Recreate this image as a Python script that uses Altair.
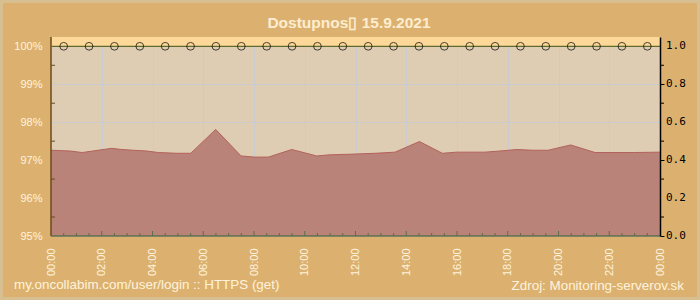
import altair as alt
import pandas as pd

# ---- data ----
hours = [0.0, 0.75, 1.23, 1.86, 2.39, 2.79, 3.25, 3.77, 4.23, 4.98, 5.51, 6.49, 7.49,
         8.0, 8.57, 9.49, 10.01, 10.47, 11.0, 11.98, 12.77, 13.56, 14.52, 15.42, 15.99,
         17.1, 17.70, 18.35, 19.0, 19.59, 20.48, 21.44, 23.0, 24.0]
availability_pct = [97.26, 97.24, 97.20, 97.26, 97.31, 97.28, 97.26, 97.24, 97.20, 97.18,
                    97.18, 97.81, 97.11, 97.08, 97.08, 97.28, 97.19, 97.11, 97.14, 97.16,
                    97.18, 97.21, 97.49, 97.18, 97.21, 97.21, 97.24, 97.28, 97.26, 97.26,
                    97.40, 97.20, 97.20, 97.21]

point_hours = [0.5, 1.5, 2.5, 3.5, 4.5, 5.5, 6.5, 7.5, 8.5, 9.5, 10.5, 11.5,
               12.5, 13.5, 14.5, 15.5, 16.5, 17.5, 18.5, 19.5, 20.5, 21.5, 22.5, 23.5]
point_values = [1.0, 1.0, 1.0, 1.0, 1.0, 1.0, 1.0, 1.0, 1.0, 1.0, 1.0, 1.0,
                1.0, 1.0, 1.0, 1.0, 1.0, 1.0, 1.0, 1.0, 1.0, 1.0, 1.0, 1.0]

x_tick_labels = [0, 2, 4, 6, 8, 10, 12, 14, 16, 18, 20, 22, 24]
left_tick_labels = [95, 96, 97, 98, 99, 100]
left_minor = [95.5, 96.5, 97.5, 98.5, 99.5]
right_tick_labels = [0.0, 0.2, 0.4, 0.6, 0.8, 1.0]
right_minor = [0.1, 0.3, 0.5, 0.7, 0.9]
bottom_minor = [h / 2 for h in range(1, 48) if h % 4 != 0]
bottom_major = [2, 4, 6, 8, 10, 12, 14, 16, 18, 20, 22]

title_text = "Dostupnos\u25af 15.9.2021"
left_note = "my.oncollabim.com/user/login :: HTTPS (get)"
right_note = "Zdroj: Monitoring-serverov.sk"

W, H = 609, 199
CREAM = "#fff3dc"
LABEL_FONT = "Liberation Sans"
GRID = "#cbcacf"

df_area = pd.DataFrame({"h": hours, "v": availability_pct})
df_pts = pd.DataFrame({"h": point_hours, "a": point_values})
one = pd.DataFrame({"_": [0]})

xscale = alt.Scale(domain=[0, 24], nice=False)
lscale = alt.Scale(domain=[95, 100.245], nice=False, zero=False)
rscale = alt.Scale(domain=[0, 1.049], nice=False, zero=False)

xaxis = alt.Axis(
    values=x_tick_labels, title=None, grid=True, gridColor=GRID,
    domain=False, ticks=False, labelAngle=270, labelPadding=12,
    labelColor=CREAM, labelFont=LABEL_FONT, labelFontSize=11,
    labelOverlap=False, labelFlush=False,
    labelExpr="(datum.value % 24 < 10 ? '0' : '') + (datum.value % 24) + ':00'")

raxis = alt.Axis(
    orient="right", values=right_tick_labels, title=None, grid=False,
    domainColor="black", domainWidth=1.5, tickColor="black", tickSize=4,
    labels=False, zindex=1)

band = alt.Chart(one).mark_rect(color="#fed898").encode(
    x=alt.value(0), x2=alt.value(W), y=alt.value(0), y2=alt.value(9.3)
)

area = alt.Chart(df_area).mark_area(
    color="#b9837a", opacity=1, line={"color": "#b3625b", "strokeWidth": 1}, clip=True
).encode(
    x=alt.X("h:Q", scale=xscale, axis=xaxis),
    y=alt.Y("v:Q", scale=lscale, axis=alt.Axis(
        values=left_tick_labels, title=None, orient="left", grid=True,
        gridColor=GRID, domain=False, ticks=False, labelPadding=9,
        labelColor=CREAM, labelFont=LABEL_FONT, labelFontSize=11,
        labelOverlap=False, labelFlush=False,
        labelExpr="datum.value + '%'")),
    y2=alt.datum(95),
)

lminor = alt.Chart(pd.DataFrame({"v": left_minor})).mark_rule(
    color="#6b4a1e", strokeWidth=1
).encode(
    y=alt.Y("v:Q", scale=lscale, axis=None), x=alt.value(0), x2=alt.value(4)
)

bminor = alt.Chart(pd.DataFrame({"h": bottom_minor})).mark_rule(
    color="#5f6e45", strokeWidth=1
).encode(
    x=alt.X("h:Q", scale=xscale, axis=xaxis), y=alt.value(H), y2=alt.value(H - 3)
)
bmajor = alt.Chart(pd.DataFrame({"h": bottom_major})).mark_rule(
    color="#5f6e45", strokeWidth=1
).encode(
    x=alt.X("h:Q", scale=xscale, axis=xaxis), y=alt.value(H), y2=alt.value(H - 5)
)

left_dom = alt.Chart(one).mark_rule(color="#6b4a1e", strokeWidth=1.5).encode(
    x=alt.value(0), y=alt.value(0), y2=alt.value(H)
)
bottom_dom = alt.Chart(one).mark_rule(color="#5f6e45", strokeWidth=1.5).encode(
    x=alt.value(0), x2=alt.value(W), y=alt.value(H)
)

top_line = alt.Chart(one).mark_rule(color="#5f6a2c", strokeWidth=1.2).encode(
    x=alt.value(0), x2=alt.value(W), y=alt.datum(1.0)
)
rminor = alt.Chart(pd.DataFrame({"t": right_minor})).mark_rule(
    color="black", strokeWidth=1
).encode(
    y=alt.Y("t:Q", scale=rscale, axis=raxis), x=alt.value(W), x2=alt.value(W + 4)
)
rlabels = alt.Chart(pd.DataFrame({"t": right_tick_labels})).mark_text(
    align="left", baseline="middle", font="DejaVu Sans Mono", fontSize=11, color="black"
).encode(
    y=alt.Y("t:Q", scale=rscale, axis=raxis), x=alt.value(W + 6),
    text=alt.Text("t:Q", format=".1f")
)
points = alt.Chart(df_pts).mark_point(
    shape="circle", filled=False, color="black", size=60, strokeWidth=1
).encode(
    x=alt.X("h:Q", scale=xscale, axis=xaxis),
    y=alt.Y("a:Q", scale=rscale, axis=raxis),
)
right_layer = alt.layer(top_line, rminor, rlabels, points)

border = alt.Chart(one).mark_rect(
    fill="transparent", stroke="#d8bf92", strokeWidth=3
).encode(
    x=alt.value(-51 + 1.5), x2=alt.value(649 - 1.5),
    y=alt.value(-37 + 1.5), y2=alt.value(263 - 1.5)
)

title = alt.Chart(one).mark_text(
    text=title_text, font=LABEL_FONT, fontSize=15.5, fontWeight="bold",
    color="#fdedcf", align="center", baseline="alphabetic"
).encode(x=alt.value(298), y=alt.value(-9))

note_l = alt.Chart(one).mark_text(
    text=left_note, font=LABEL_FONT, fontSize=13.4, color=CREAM,
    align="left", baseline="alphabetic"
).encode(x=alt.value(-37), y=alt.value(252))

note_r = alt.Chart(one).mark_text(
    text=right_note, font=LABEL_FONT, fontSize=13.4, color=CREAM,
    align="right", baseline="alphabetic"
).encode(x=alt.value(633), y=alt.value(253))

chart = alt.layer(
    band, area, lminor, bminor, bmajor, left_dom, bottom_dom, right_layer,
    border, title, note_l, note_r
).resolve_scale(y="independent").properties(
    width=W, height=H,
    autosize=alt.AutoSizeParams(type="none"),
    padding={"left": 51, "top": 37, "right": 40, "bottom": 64},
    background="#dcb170",
).configure_view(stroke=None, fill="#decdb2")

chart.save("out.html", embed_options={"renderer": "svg", "actions": False})
